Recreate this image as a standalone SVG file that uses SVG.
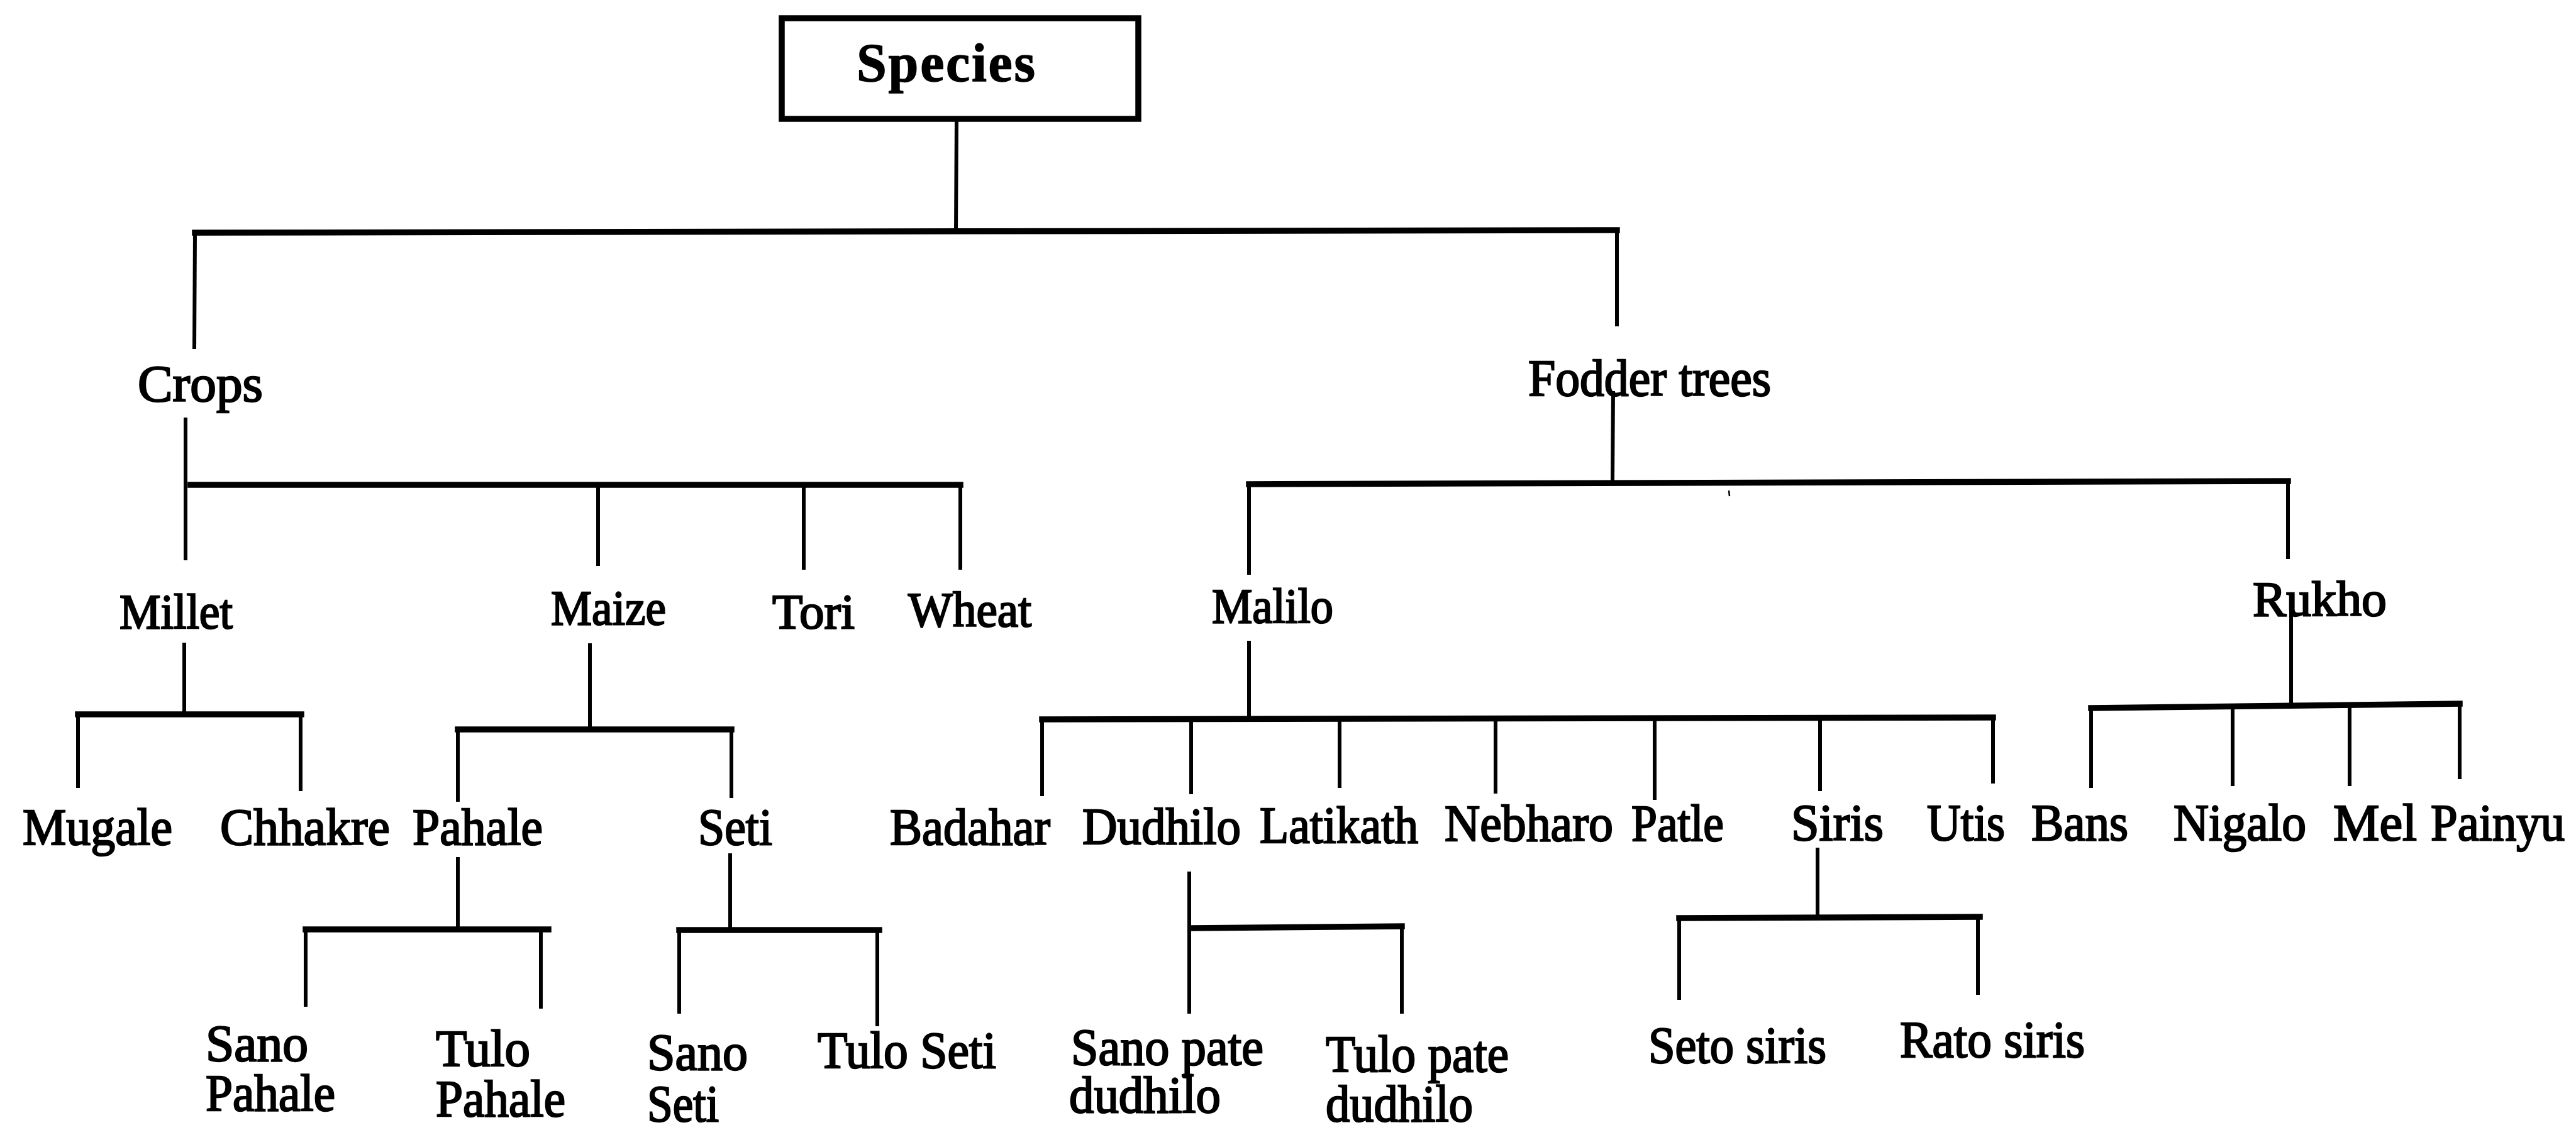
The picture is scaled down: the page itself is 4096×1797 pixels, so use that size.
<svg xmlns="http://www.w3.org/2000/svg" width="4096" height="1797" viewBox="0 0 4096 1797">
<style>
  .lbl { font-family: "Liberation Serif", "Times New Roman", serif; font-size: 82px; fill: #000; stroke: #000; stroke-width: 2.4; }
  .mid { font-size: 79px; }
  .title { font-family: "Liberation Serif", "Times New Roman", serif; font-size: 86px; font-weight: bold; fill: #000; stroke: #000; stroke-width: 1.4; }
  .bar { stroke: #000; stroke-width: 9.5; fill: none; stroke-linecap: square; }
  .stem { stroke: #000; stroke-width: 6; fill: none; }
  .box { stroke: #000; stroke-width: 9.5; fill: #fff; }
</style>
<rect width="4096" height="1797" fill="#fff"/>

<!-- connectors: thick horizontal bars and thin vertical stems -->
<g id="connectors">
  <!-- Species -> Crops / Fodder trees -->
  <line class="stem" x1="1521" y1="189" x2="1520" y2="370"/>
  <line class="bar" x1="310" y1="370" x2="2571" y2="366"/>
  <line class="stem" x1="310" y1="370" x2="309" y2="555"/>
  <line class="stem" x1="2571" y1="366" x2="2571" y2="519"/>

  <!-- Crops -> Millet, Maize, Tori, Wheat -->
  <line class="stem" x1="295" y1="664" x2="295" y2="891"/>
  <line class="bar" x1="303" y1="771" x2="1527" y2="771"/>
  <line class="stem" x1="951" y1="771" x2="951" y2="900"/>
  <line class="stem" x1="1278" y1="771" x2="1278" y2="906"/>
  <line class="stem" x1="1527" y1="771" x2="1527" y2="906"/>

  <!-- Fodder trees -> Malilo, Rukho -->
  <line class="stem" x1="2565" y1="622" x2="2564" y2="766"/>
  <line class="bar" x1="1986" y1="770" x2="3638" y2="765"/>
  <line class="stem" x1="1986" y1="770" x2="1986" y2="914"/>
  <line class="stem" x1="3638" y1="765" x2="3638" y2="889"/>
  <line x1="2749" y1="780" x2="2750" y2="789" stroke="#000" stroke-width="2.5"/>

  <!-- Millet -> Mugale, Chhakre -->
  <line class="stem" x1="293" y1="1022" x2="293" y2="1136"/>
  <line class="bar" x1="124" y1="1136" x2="479" y2="1136"/>
  <line class="stem" x1="124" y1="1136" x2="124" y2="1253"/>
  <line class="stem" x1="478" y1="1136" x2="478" y2="1258"/>

  <!-- Maize -> Pahale, Seti -->
  <line class="stem" x1="938" y1="1023" x2="938" y2="1160"/>
  <line class="bar" x1="728" y1="1160" x2="1163" y2="1160"/>
  <line class="stem" x1="728" y1="1160" x2="728" y2="1275"/>
  <line class="stem" x1="1163" y1="1160" x2="1163" y2="1269"/>

  <!-- Malilo -> Badahar .. Utis -->
  <line class="stem" x1="1986" y1="1019" x2="1986" y2="1143"/>
  <line class="bar" x1="1657" y1="1144" x2="3169" y2="1141"/>
  <line class="stem" x1="1657" y1="1144" x2="1657" y2="1266"/>
  <line class="stem" x1="1894" y1="1144" x2="1894" y2="1263"/>
  <line class="stem" x1="2130" y1="1143" x2="2130" y2="1253"/>
  <line class="stem" x1="2378" y1="1143" x2="2378" y2="1262"/>
  <line class="stem" x1="2631" y1="1142" x2="2631" y2="1272"/>
  <line class="stem" x1="2894" y1="1142" x2="2894" y2="1258"/>
  <line class="stem" x1="3169" y1="1141" x2="3169" y2="1246"/>

  <!-- Rukho -> Bans, Nigalo, Mel, Painyu -->
  <line class="stem" x1="3643" y1="962" x2="3643" y2="1121"/>
  <line class="bar" x1="3325" y1="1126" x2="3911" y2="1119"/>
  <line class="stem" x1="3325" y1="1126" x2="3325" y2="1253"/>
  <line class="stem" x1="3550" y1="1124" x2="3550" y2="1250"/>
  <line class="stem" x1="3736" y1="1122" x2="3736" y2="1250"/>
  <line class="stem" x1="3911" y1="1119" x2="3911" y2="1239"/>

  <!-- Pahale -> Sano Pahale, Tulo Pahale -->
  <line class="stem" x1="728" y1="1363" x2="728" y2="1478"/>
  <line class="bar" x1="486" y1="1478" x2="872" y2="1478"/>
  <line class="stem" x1="486" y1="1478" x2="486" y2="1601"/>
  <line class="stem" x1="860" y1="1478" x2="860" y2="1604"/>

  <!-- Seti -> Sano Seti, Tulo Seti -->
  <line class="stem" x1="1161" y1="1357" x2="1161" y2="1479"/>
  <line class="bar" x1="1080" y1="1479" x2="1398" y2="1479"/>
  <line class="stem" x1="1080" y1="1479" x2="1080" y2="1612"/>
  <line class="stem" x1="1395" y1="1479" x2="1395" y2="1632"/>

  <!-- Dudhilo -> Sano pate dudhilo, Tulo pate dudhilo -->
  <line class="stem" x1="1891" y1="1386" x2="1891" y2="1612"/>
  <line class="bar" x1="1895" y1="1476" x2="2229" y2="1473"/>
  <line class="stem" x1="2229" y1="1473" x2="2229" y2="1612"/>

  <!-- Siris -> Seto siris, Rato siris -->
  <line class="stem" x1="2890" y1="1348" x2="2890" y2="1459"/>
  <line class="bar" x1="2670" y1="1460" x2="3148" y2="1458"/>
  <line class="stem" x1="2670" y1="1460" x2="2670" y2="1590"/>
  <line class="stem" x1="3145" y1="1458" x2="3145" y2="1582"/>
</g>

<!-- root -->
<g id="species">
  <rect class="box" x="1243" y="29" width="567" height="160"/>
  <text class="title" x="1362" y="129" textLength="284" lengthAdjust="spacing">Species</text>
</g>

<!-- level 1 -->
<g id="crops"><text class="lbl" x="219" y="638" textLength="199" lengthAdjust="spacingAndGlyphs">Crops</text></g>
<g id="fodder-trees"><text class="lbl" x="2430" y="629" textLength="386" lengthAdjust="spacingAndGlyphs">Fodder trees</text></g>

<!-- level 2 -->
<g id="millet"><text class="lbl mid" x="190" y="999" textLength="180" lengthAdjust="spacingAndGlyphs">Millet</text></g>
<g id="maize"><text class="lbl mid" x="876" y="993" textLength="183" lengthAdjust="spacingAndGlyphs">Maize</text></g>
<g id="tori"><text class="lbl mid" x="1228" y="999" textLength="131" lengthAdjust="spacingAndGlyphs">Tori</text></g>
<g id="wheat"><text class="lbl mid" x="1444" y="996" textLength="196" lengthAdjust="spacingAndGlyphs">Wheat</text></g>
<g id="malilo"><text class="lbl mid" x="1927" y="990" textLength="193" lengthAdjust="spacingAndGlyphs">Malilo</text></g>
<g id="rukho"><text class="lbl mid" x="3582" y="979" textLength="213" lengthAdjust="spacingAndGlyphs">Rukho</text></g>

<!-- level 3 -->
<g id="mugale"><text class="lbl" x="36" y="1343" textLength="238" lengthAdjust="spacingAndGlyphs">Mugale</text></g>
<g id="chhakre"><text class="lbl" x="350" y="1343" textLength="270" lengthAdjust="spacingAndGlyphs">Chhakre</text></g>
<g id="pahale"><text class="lbl" x="656" y="1343" textLength="207" lengthAdjust="spacingAndGlyphs">Pahale</text></g>
<g id="seti"><text class="lbl" x="1110" y="1343" textLength="118" lengthAdjust="spacingAndGlyphs">Seti</text></g>
<g id="badahar"><text class="lbl" x="1415" y="1343" textLength="255" lengthAdjust="spacingAndGlyphs">Badahar</text></g>
<g id="dudhilo"><text class="lbl" x="1721" y="1342" textLength="252" lengthAdjust="spacingAndGlyphs">Dudhilo</text></g>
<g id="latikath"><text class="lbl" x="2003" y="1340" textLength="252" lengthAdjust="spacingAndGlyphs">Latikath</text></g>
<g id="nebharo"><text class="lbl" x="2297" y="1337" textLength="268" lengthAdjust="spacingAndGlyphs">Nebharo</text></g>
<g id="patle"><text class="lbl" x="2594" y="1337" textLength="147" lengthAdjust="spacingAndGlyphs">Patle</text></g>
<g id="siris"><text class="lbl" x="2848" y="1336" textLength="147" lengthAdjust="spacingAndGlyphs">Siris</text></g>
<g id="utis"><text class="lbl" x="3064" y="1336" textLength="124" lengthAdjust="spacingAndGlyphs">Utis</text></g>
<g id="bans"><text class="lbl" x="3230" y="1336" textLength="154" lengthAdjust="spacingAndGlyphs">Bans</text></g>
<g id="nigalo"><text class="lbl" x="3456" y="1336" textLength="211" lengthAdjust="spacingAndGlyphs">Nigalo</text></g>
<g id="mel"><text class="lbl" x="3710" y="1336" textLength="133" lengthAdjust="spacingAndGlyphs">Mel</text></g>
<g id="painyu"><text class="lbl" x="3865" y="1336" textLength="213" lengthAdjust="spacingAndGlyphs">Painyu</text></g>

<!-- level 4 (two-line names share one text element) -->
<g id="sano-pahale">
  <text class="lbl"><tspan x="327" y="1687" textLength="163" lengthAdjust="spacingAndGlyphs">Sano</tspan><tspan x="327" y="1766" textLength="206" lengthAdjust="spacingAndGlyphs">Pahale</tspan></text>
</g>
<g id="tulo-pahale">
  <text class="lbl"><tspan x="693" y="1695" textLength="150" lengthAdjust="spacingAndGlyphs">Tulo</tspan><tspan x="693" y="1775" textLength="206" lengthAdjust="spacingAndGlyphs">Pahale</tspan></text>
</g>
<g id="sano-seti">
  <text class="lbl"><tspan x="1029" y="1701" textLength="160" lengthAdjust="spacingAndGlyphs">Sano</tspan><tspan x="1029" y="1783" textLength="114" lengthAdjust="spacingAndGlyphs">Seti</tspan></text>
</g>
<g id="tulo-seti"><text class="lbl" x="1300" y="1698" textLength="284" lengthAdjust="spacingAndGlyphs">Tulo Seti</text></g>
<g id="sano-pate-dudhilo">
  <text class="lbl"><tspan x="1703" y="1693" textLength="306" lengthAdjust="spacingAndGlyphs">Sano pate</tspan><tspan x="1700" y="1769" textLength="241" lengthAdjust="spacingAndGlyphs">dudhilo</tspan></text>
</g>
<g id="tulo-pate-dudhilo">
  <text class="lbl"><tspan x="2108" y="1704" textLength="291" lengthAdjust="spacingAndGlyphs">Tulo pate</tspan><tspan x="2108" y="1783" textLength="234" lengthAdjust="spacingAndGlyphs">dudhilo</tspan></text>
</g>
<g id="seto-siris"><text class="lbl" x="2621" y="1690" textLength="283" lengthAdjust="spacingAndGlyphs">Seto siris</text></g>
<g id="rato-siris"><text class="lbl" x="3021" y="1681" textLength="294" lengthAdjust="spacingAndGlyphs">Rato siris</text></g>
</svg>
